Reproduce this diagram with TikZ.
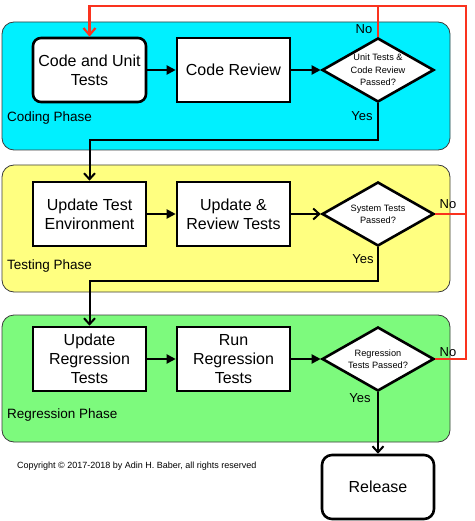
\documentclass[tikz,border=0pt]{standalone}
\usepackage{fontspec}
\setmainfont{Liberation Sans}
\usetikzlibrary{shapes.geometric,arrows.meta}
\definecolor{codecyan}{RGB}{0,240,255}
\definecolor{testyellow}{RGB}{255,255,128}
\definecolor{reggreen}{RGB}{125,250,125}
\definecolor{loopred}{RGB}{250,50,30}
\definecolor{panelborder}{RGB}{60,60,60}
\tikzset{
  panel/.style={draw=panelborder, line width=0.8pt, rounded corners=12pt},
  stepbox/.style={draw, line width=2.6pt, fill=white, minimum width=113pt, minimum height=64pt, inner sep=0pt, align=center, font=\fontsize{16}{19}\selectfont},
  roundbox/.style={stepbox, rounded corners=8pt},
  decision/.style={draw, diamond, line width=2.6pt, fill=white, minimum width=112pt, minimum height=64pt, aspect=1.75, inner sep=0pt, align=center, font=\fontsize{9.2}{12.3}\selectfont},
  phaselabel/.style={anchor=west, inner sep=0pt, font=\fontsize{13.5}{16}\selectfont},
  yn/.style={inner sep=0pt, font=\fontsize{13}{15}\selectfont},
  flow/.style={line width=2pt, -{Triangle[length=9pt,width=9pt]}},
  flowopen/.style={line width=2pt, -{Straight Barb[length=6pt,width=11pt,line width=2pt]}},
  redline/.style={draw=loopred, line width=2.2pt},
}
\begin{document}
\begin{tikzpicture}[x=1pt,y=-1pt]
\useasboundingbox (0,0) rectangle (474,521);
% phases
\node[panel, fill=codecyan, minimum width=448pt, minimum height=128pt, inner sep=0pt] (pcode) at (226,86) {};
\node[panel, fill=testyellow, minimum width=448pt, minimum height=127pt, inner sep=0pt] (ptest) at (226,228.5) {};
\node[panel, fill=reggreen, minimum width=448pt, minimum height=127pt, inner sep=0pt] (preg) at (226,378.5) {};
\node[phaselabel] (lcode) at (7,118) {Coding Phase};
\node[phaselabel] (ltest) at (7,266) {Testing Phase};
\node[phaselabel] (lreg) at (7,415) {Regression Phase};
% coding
\node[roundbox] (cu) at (89.5,70) {Code and Unit\\Tests};
\node[stepbox] (cr) at (233.5,70) {Code Review};
\node[decision] (d1) at (378,70) {Unit Tests \&\\Code Review\\Passed?};
% testing
\node[stepbox] (ute) at (89.5,214) {Update Test\\Environment};
\node[stepbox] (urt) at (233.5,214) {Update \&\\Review Tests};
\node[decision] (d2) at (378,214) {System Tests\\Passed?};
% regression
\node[stepbox] (urg) at (89.5,359) {Update\\Regression\\Tests};
\node[stepbox] (rrg) at (233.5,359) {Run\\Regression\\Tests};
\node[decision] (d3) at (378,359) {Regression\\Tests Passed?};
% release
\node[roundbox, minimum width=112pt, rounded corners=10pt] (rel) at (378,487) {Release};
% copyright
\node[anchor=west, inner sep=0pt, font=\fontsize{9}{11}\selectfont] (copy) at (17,466) {Copyright © 2017-2018 by Adin H. Baber, all rights reserved};
% helper coordinates
\coordinate (y1) at (0,140);
\coordinate (y2) at (0,281);
\coordinate (rtop) at (466,6);
% flow arrows
\draw[flow] (cu) -- (cr);
\draw[flow] (cr) -- (d1);
\draw[flow] (ute) -- (urt);
\draw[flowopen] (urt) -- (d2);
\draw[flow] (urg) -- (rrg);
\draw[flow] (rrg) -- (d3);
\draw[flowopen] (d1.south) -- (d1.south |- y1) -| (ute.north);
\draw[flowopen] (d2.south) -- (d2.south |- y2) -| (urg.north);
\draw[flowopen] (d3.south) -- (rel.north);
% red loop
\draw[redline] (d1.north) -- (d1.north |- rtop);
\draw[redline] (d2.east) -- (d2.east -| rtop);
\draw[redline, -{Straight Barb[length=7pt,width=12pt,line width=2.2pt]}] (d3.east) -| (rtop) -| (cu.north);
% labels
\node[yn] (no1) at (364,29) {No};
\node[yn] (yes1) at (362,116) {Yes};
\node[yn] (no2) at (448,204) {No};
\node[yn] (yes2) at (363,259) {Yes};
\node[yn] (no3) at (448,352) {No};
\node[yn] (yes3) at (360,398) {Yes};
\end{tikzpicture}
\end{document}
